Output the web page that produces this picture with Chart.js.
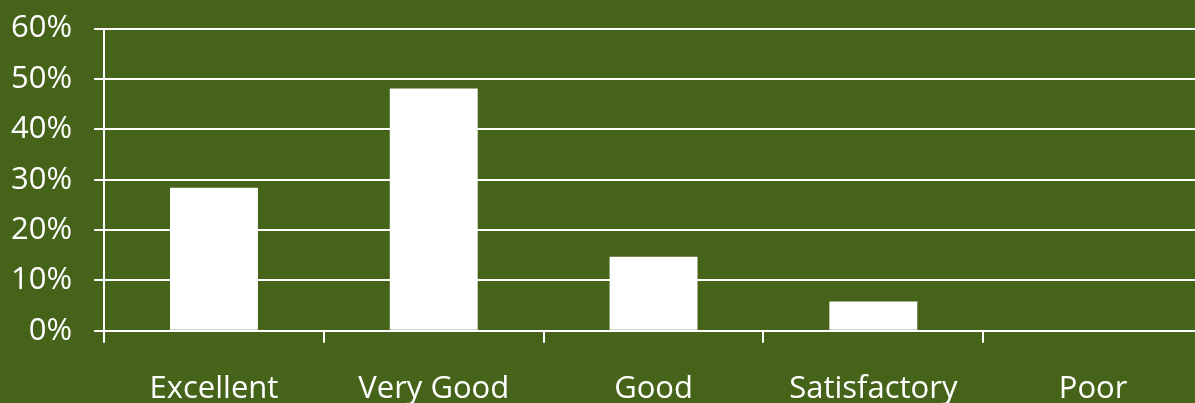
<!DOCTYPE html>
<html>
<head>
<meta charset="utf-8">
<script src="https://cdn.jsdelivr.net/npm/chart.js@4"></script>
<style>
  html, body { margin: 0; padding: 0; background: #456419; overflow: hidden; }
  #wrap { width: 1226px; height: 448px; position: relative; margin-left: -23px; margin-top: -12px; }
</style>
</head>
<body>
<div id="wrap"><canvas id="RatingChart"></canvas></div>
<script>
// survey ratings, share of responses in percent
const categories = ['Excellent', 'Very Good', 'Good', 'Satisfactory', 'Poor'];
const shares = [28.4, 48.1, 14.7, 5.8, 0];
const y_ticks = [0, 10, 20, 30, 40, 50, 60];

const ctx = document.getElementById('RatingChart').getContext('2d');
const chart = new Chart(ctx, {
    type: 'bar',
    data: {
        labels: categories,
        datasets: [
            {
                label: 'Share',
                data: shares,
                backgroundColor: '#ffffff',
                borderWidth: 0,
                barPercentage: 0.4,
                categoryPercentage: 1.0
            }
        ]
    },
    options: {
        responsive: true,
        maintainAspectRatio: false,
        animation: false,
        layout: { padding: { top: 4, left: 12, right: 0, bottom: 0 } },
        plugins: { legend: { display: false }, tooltip: { enabled: false } },
        scales: {
            x: {
                offset: true,
                grid: {
                    offset: true,
                    drawOnChartArea: false,
                    color: '#ffffff',
                    lineWidth: 2,
                    tickLength: 12
                },
                border: { color: '#ffffff', width: 2 },
                ticks: {
                    color: '#ffffff',
                    padding: 28,
                    font: { family: 'Open Sans', size: 31 }
                }
            },
            y: {
                min: 0,
                max: 60,
                afterBuildTicks: axis => { axis.ticks = y_ticks.map(v => ({ value: v })); },
                grid: {
                    color: '#ffffff',
                    lineWidth: 2,
                    tickLength: 10
                },
                border: { color: '#ffffff', width: 2 },
                ticks: {
                    color: '#ffffff',
                    padding: 22,
                    font: { family: 'Open Sans', size: 31 },
                    callback: v => v + '%'
                }
            }
        }
    }
});
</script>
</body>
</html>
